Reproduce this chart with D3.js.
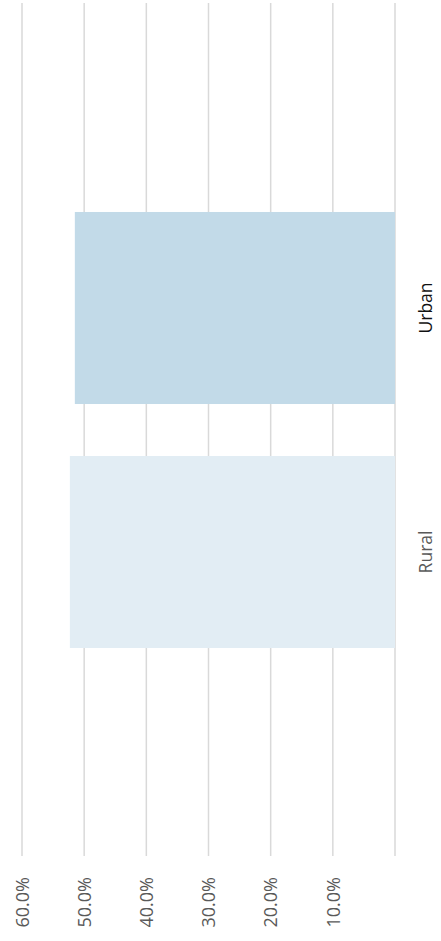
<!DOCTYPE html>
<html>
<head>
<meta charset="utf-8">
<script src="https://cdn.jsdelivr.net/npm/d3@7"></script>
<style>
  body { margin: 0; background: #fff; }
  svg { display: block; font-family: "Open Sans", sans-serif; }
</style>
</head>
<body>
<svg class="chart" width="441" height="941"></svg>
<script>
// share by area, chart is drawn turned a quarter turn
var categories = ["Urban", "Rural"];
var values = [0.515, 0.523];
var gridValues = [0, 0.1, 0.2, 0.3, 0.4, 0.5, 0.6];
var tickLabels = ["10.0%", "20.0%", "30.0%", "40.0%", "50.0%", "60.0%"];
var barColors = ["#c2dae8", "#e2edf4"];
var labelColors = ["#111111", "#595959"];

var svg = d3.select(".chart"),
    gridTop = 3,
    gridBottom = 856;

var x = d3.scaleLinear().domain([0, 0.6]).range([395, 22]);
var y = d3.scaleBand()
    .domain(categories)
    .range([186, 674])
    .paddingInner(0.213)
    .paddingOuter(0.1065);

// gridlines
svg.append("g").attr("class", "grid")
  .selectAll("line")
  .data(gridValues)
  .enter().append("line")
    .attr("x1", function(d) { return x(d); })
    .attr("x2", function(d) { return x(d); })
    .attr("y1", gridTop)
    .attr("y2", gridBottom)
    .attr("stroke", "#d9d9d9")
    .attr("stroke-width", 1.5);

// bars
svg.append("g").selectAll("rect")
  .data(categories)
  .enter().append("rect")
    .attr("x", function(d, i) { return x(values[i]); })
    .attr("y", function(d) { return y(d); })
    .attr("width", function(d, i) { return x(0) - x(values[i]); })
    .attr("height", y.bandwidth())
    .style("fill", function(d, i) { return barColors[i]; });

// value axis labels along the bottom
var xAxis = d3.axisBottom(x)
    .tickValues(gridValues.slice(1))
    .tickFormat(function(d, i) { return tickLabels[i]; })
    .tickSize(0);

var gx = svg.append("g")
    .attr("class", "x axis")
    .attr("transform", "translate(0,877)")
    .call(xAxis);
gx.select(".domain").remove();
gx.selectAll("text")
    .attr("transform", "rotate(-90)")
    .attr("x", 0)
    .attr("y", 0)
    .attr("dy", "0.35em")
    .style("text-anchor", "end")
    .style("font-family", "'Open Sans', sans-serif")
    .style("font-size", "18px")
    .attr("fill", "#595959");

// category labels on the right
svg.append("g").selectAll("text")
  .data(categories)
  .enter().append("text")
    .attr("transform", function(d) {
      return "translate(432," + (y(d) + y.bandwidth() / 2) + ") rotate(-90)";
    })
    .style("text-anchor", "middle")
    .style("font-size", "17.5px")
    .attr("fill", function(d, i) { return labelColors[i]; })
    .text(function(d) { return d; });
</script>
</body>
</html>
